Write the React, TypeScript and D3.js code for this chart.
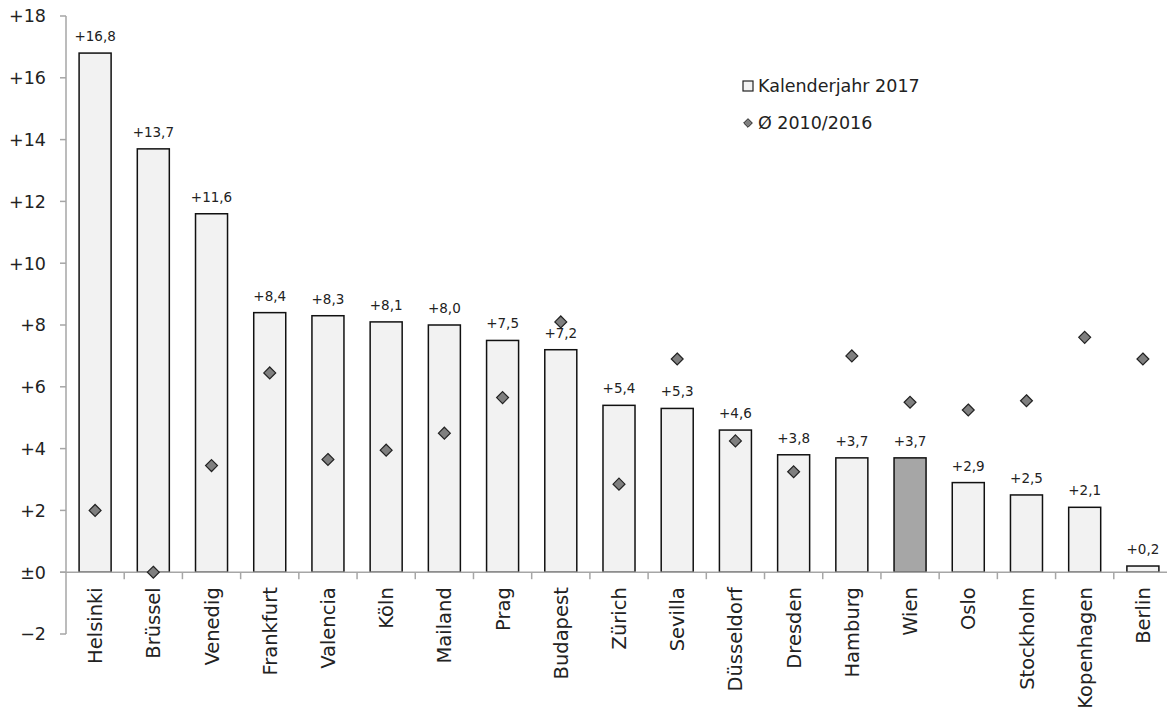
import React from "react";
import * as d3 from "d3";

const cities = [
  "Helsinki", "Brüssel", "Venedig", "Frankfurt", "Valencia", "Köln", "Mailand",
  "Prag", "Budapest", "Zürich", "Sevilla", "Düsseldorf", "Dresden", "Hamburg",
  "Wien", "Oslo", "Stockholm", "Kopenhagen", "Berlin",
];
const year2017 = [16.8, 13.7, 11.6, 8.4, 8.3, 8.1, 8.0, 7.5, 7.2, 5.4, 5.3, 4.6, 3.8, 3.7, 3.7, 2.9, 2.5, 2.1, 0.2];
const avg2010to2016 = [2.0, 0.0, 3.45, 6.45, 3.65, 3.95, 4.5, 5.65, 8.1, 2.85, 6.9, 4.25, 3.25, 7.0, 5.5, 5.25, 5.55, 7.6, 6.9];
const yTicks = [-2, 0, 2, 4, 6, 8, 10, 12, 14, 16, 18];
const highlight = "Wien";
const legendLabels = ["Kalenderjahr 2017", "Ø 2010/2016"];

const W = 1167;
const H = 723;
const FONT = "'DejaVu Sans', 'Open Sans', sans-serif";

const fmtTick = (v: number) => (v === 0 ? "±0" : v > 0 ? `+${v}` : `\u2212${Math.abs(v)}`);
const fmtVal = (v: number) => `+${v.toFixed(1).replace(".", ",")}`;

export default function App() {
  const x = d3.scaleBand<string>().domain(cities).range([66, 1172]).paddingInner(0.45).paddingOuter(0.225);
  const step = x.step();
  const y = d3.scaleLinear().domain([-2, 18]).range([634, 16]);
  const axisColor = "#a6a6a6";
  const diamond = d3.symbol().type(d3.symbolDiamond2).size(90)();

  return (
    <svg width={W} height={H} style={{ position: "absolute", left: 0, top: 0, background: "#fff" }} fontFamily={FONT}>
      {/* value axis */}
      <line x1={66} x2={66} y1={y(18)} y2={y(-2)} stroke={axisColor} strokeWidth={1.5} />
      {yTicks.map((t) => (
        <g key={t}>
          <line x1={60} x2={66} y1={y(t)} y2={y(t)} stroke={axisColor} strokeWidth={1.5} />
          <text x={46} y={y(t)} dy="0.36em" textAnchor="end" fontSize={17.5} fill="#222">{fmtTick(t)}</text>
        </g>
      ))}

      {/* bars */}
      {cities.map((c, i) => (
        <rect
          key={c}
          x={x(c)!}
          y={y(year2017[i])}
          width={x.bandwidth()}
          height={y(0) - y(year2017[i])}
          fill={c === highlight ? "#a6a6a6" : "#f2f2f2"}
          stroke="#111"
          strokeWidth={1.5}
        />
      ))}

      {/* zero line and category ticks */}
      <line x1={60} x2={W} y1={y(0)} y2={y(0)} stroke={axisColor} strokeWidth={1.5} />
      {cities.map((c, i) => (
        <line key={c} x1={66 + step * (i + 1)} x2={66 + step * (i + 1)} y1={y(0)} y2={y(0) + 7} stroke={axisColor} strokeWidth={1.5} />
      ))}

      {/* value labels */}
      {cities.map((c, i) => (
        <text key={c} x={x(c)! + x.bandwidth() / 2} y={y(year2017[i]) - 12} textAnchor="middle" fontSize={13.5} fill="#222">
          {fmtVal(year2017[i])}
        </text>
      ))}

      {/* average markers */}
      {cities.map((c, i) => (
        <path
          key={c}
          d={diamond!}
          transform={`translate(${x(c)! + x.bandwidth() / 2},${y(avg2010to2016[i])})`}
          fill="#7f7f7f"
          stroke="#222"
          strokeWidth={1.2}
        />
      ))}

      {/* category labels */}
      {cities.map((c) => (
        <text
          key={c}
          transform={`translate(${x(c)! + x.bandwidth() / 2},${y(0) + 15}) rotate(-90)`}
          dy="0.36em"
          textAnchor="end"
          fontSize={19.5}
          fill="#222"
        >
          {c}
        </text>
      ))}

      {/* legend */}
      <rect x={743} y={81} width={10} height={10} fill="#f2f2f2" stroke="#222" strokeWidth={1.2} />
      <text x={758} y={92} fontSize={17.5} fill="#222">{legendLabels[0]}</text>
      <path d={d3.symbol().type(d3.symbolDiamond2).size(48)()!} transform="translate(748,123)" fill="#7f7f7f" stroke="#222" strokeWidth={1} />
      <text x={758} y={129} fontSize={17.5} fill="#222">{legendLabels[1]}</text>
    </svg>
  );
}
